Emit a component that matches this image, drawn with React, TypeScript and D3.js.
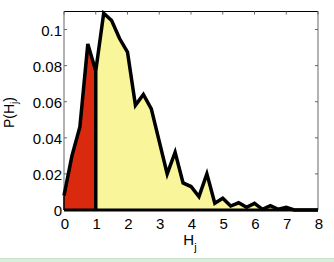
import React from "react";
import * as d3 from "d3";

const hValues = [0, 0.25, 0.5, 0.75, 1, 1.25, 1.5, 1.75, 2, 2.25, 2.5, 2.75, 3, 3.25, 3.5, 3.75, 4, 4.25, 4.5, 4.75, 5, 5.25, 5.5, 5.75, 6, 6.25, 6.5, 6.75, 7, 7.25, 7.5, 7.75, 8];
const pValues = [0.008, 0.03, 0.046, 0.092, 0.077, 0.109, 0.105, 0.095, 0.0875, 0.058, 0.064, 0.056, 0.038, 0.02, 0.032, 0.015, 0.013, 0.0074, 0.02, 0.0037, 0.0065, 0.0022, 0.004, 0.0015, 0.0037, 0.0004, 0.0024, 0.0004, 0.0015, 0, 0, 0, 0];
const xTicks = [0, 1, 2, 3, 4, 5, 6, 7, 8];
const yTicks = [0, 0.02, 0.04, 0.06, 0.08, 0.1];
const yTickLabels = ["0", "0.02", "0.04", "0.06", "0.08", "0.1"];
const threshold = 1;

const W = 334;
const H = 262;
const left = 64, right = 318, top = 11.5, bottom = 210;
const font = "'Liberation Sans', Arial, sans-serif";

export default function App() {
  const x = d3.scaleLinear().domain([0, 8]).range([left, right]);
  const y = d3.scaleLinear().domain([0, 0.11]).range([bottom, top]);
  const pts = hValues.map((h, i) => [h, pValues[i]] as [number, number]);
  const redPts = pts.filter((p) => p[0] <= threshold);
  const yellowPts = pts.filter((p) => p[0] >= threshold);

  const area = d3
    .area<[number, number]>()
    .x((d) => x(d[0]))
    .y0(y(0))
    .y1((d) => y(d[1]));
  const line = d3
    .line<[number, number]>()
    .x((d) => x(d[0]))
    .y((d) => y(d[1]));

  return (
    <svg
      width={W}
      height={H}
      style={{ position: "fixed", left: 0, top: 0, background: "#fff" }}
      fontFamily={font}
    >
      <rect x={0} y={0} width={W} height={H} fill="#fff" />
      {/* axes box */}
      <line x1={left} x2={right} y1={top} y2={top} stroke="#000" strokeWidth={1} />
      <line x1={right} x2={right} y1={top} y2={bottom} stroke="#666" strokeWidth={1} />
      <line x1={left} x2={left} y1={top} y2={bottom} stroke="#666" strokeWidth={1} />
      {xTicks.map((t) => (
        <line key={"xt" + t} x1={x(t)} x2={x(t)} y1={top} y2={top + 3} stroke="#666" strokeWidth={1} />
      ))}
      {yTicks.map((t) => (
        <g key={"yt" + t}>
          <line x1={right} x2={right - 3} y1={y(t)} y2={y(t)} stroke="#666" strokeWidth={1} />
          <line x1={left} x2={left + 3} y1={y(t)} y2={y(t)} stroke="#666" strokeWidth={1} />
        </g>
      ))}
      {/* fills */}
      <path d={area(redPts) || ""} fill="#d92a10" />
      <path d={area(yellowPts) || ""} fill="#f8f59a" />
      {/* outline */}
      <path
        d={line(pts) || ""}
        fill="none"
        stroke="#000"
        strokeWidth={3.5}
        strokeLinejoin="miter"
        strokeMiterlimit={4}
      />
      <line x1={left} x2={right} y1={y(0)} y2={y(0)} stroke="#000" strokeWidth={3} />
      <line
        x1={x(threshold)}
        x2={x(threshold)}
        y1={y(0)}
        y2={y(pValues[hValues.indexOf(threshold)])}
        stroke="#000"
        strokeWidth={3.5}
      />
      <line x1={left} x2={left} y1={y(0)} y2={y(pValues[0])} stroke="#000" strokeWidth={1.5} />
      {/* tick labels */}
      {xTicks.map((t) => (
        <text key={"xl" + t} x={x(t) + 1} y={229} fontSize={15} textAnchor="middle" fill="#000">
          {t}
        </text>
      ))}
      {yTicks.map((t, i) => (
        <text key={"yl" + t} x={62} y={y(t) + 6} fontSize={15} textAnchor="end" fill="#000">
          {yTickLabels[i]}
        </text>
      ))}
      {/* axis labels */}
      <text x={190} y={244.5} fontSize={15} textAnchor="middle" fill="#000">
        H
        <tspan dy={6} fontSize={11}>j</tspan>
      </text>
      <text transform={`translate(14,112.5) rotate(-90)`} fontSize={14} textAnchor="middle" fill="#000">
        P(H
        <tspan dy={4} fontSize={10}>j</tspan>
        <tspan dy={-4}>)</tspan>
      </text>
      {/* bottom green strip */}
      <rect x={0} y={258.5} width={W} height={4} fill="#d8eed8" />
      <line x1={0} x2={W} y1={258.5} y2={258.5} stroke="#c6e2c6" strokeWidth={1} />
    </svg>
  );
}
